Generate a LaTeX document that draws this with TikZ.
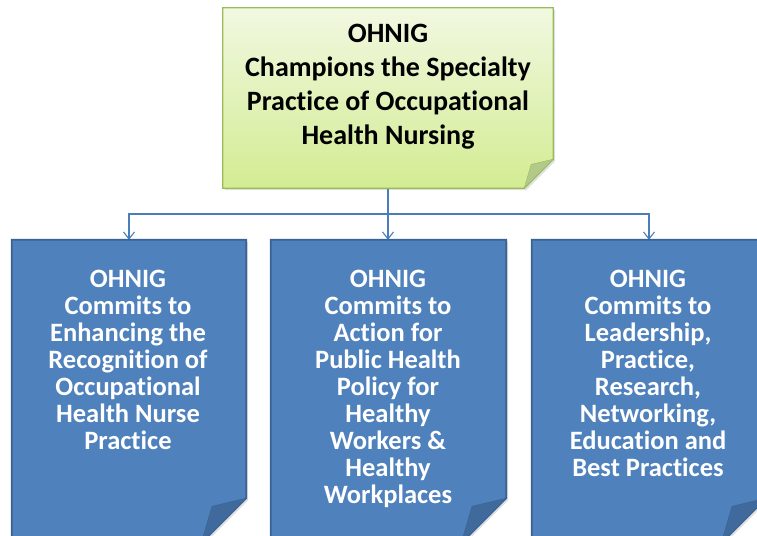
\documentclass[tikz,border=0pt]{standalone}
\usepackage{fontspec}
\setmainfont{Carlito}[Ligatures={NoCommon}]
\usetikzlibrary{arrows.meta,shadows}
\definecolor{bfill}{HTML}{4F81BD}
\definecolor{bdraw}{HTML}{3A6293}
\definecolor{bfold}{HTML}{40699C}
\definecolor{gtop}{HTML}{F1F8E1}
\definecolor{gbot}{HTML}{D3EC92}
\definecolor{gdraw}{HTML}{9BBB59}
\definecolor{gfold}{HTML}{B2C98A}
\definecolor{conn}{HTML}{4A7EBB}
\newcommand\foldshape[5]{%
  \path[#3] (#1.north west) -- (#1.north east) -- ([yshift=#2pt]#1.south east)
     -- ([xshift=-#2pt]#1.south east) -- (#1.south west) -- cycle;
  \path[fill=#5, draw=#4, line join=round] ([yshift=#2pt]#1.south east)
     -- ([xshift=-0.76*#2pt, yshift=0.82*#2pt]#1.south east)
     -- ([xshift=-#2pt]#1.south east) -- cycle;
}
\begin{document}
\begin{tikzpicture}[x=1pt,y=-1pt,
  frame/.style={draw=none, fill=none, inner sep=0pt, rectangle},
  greenpath/.style={top color=gtop, bottom color=gbot, draw=gdraw, line width=1.3pt,
     drop shadow={opacity=0.25, shadow xshift=2pt, shadow yshift=-2pt}},
  bluepath/.style={fill=bfill, draw=bdraw, line width=1.8pt,
     drop shadow={opacity=0.25, shadow xshift=2pt, shadow yshift=-2pt}},
  toptext/.style={inner sep=0pt, align=center, font=\fontsize{28}{34}\selectfont\bfseries, text=black},
  bluetext/.style={inner sep=0pt, align=center, font=\fontsize{26.5}{27}\selectfont\bfseries, text=white},
  conn/.style={draw=conn, line width=1.2pt},
  arr/.style={-{Straight Barb[length=7pt,width=11pt,line width=1.1pt]}}
]
\useasboundingbox (0,0) rectangle (757,535);
\clip (0,0) rectangle (757,535);
\fill[white] (0,0) rectangle (757,535);

\node[frame, minimum width=330pt, minimum height=180pt] (top) at (388,98) {};
\node[frame, minimum width=234pt, minimum height=303pt] (left) at (129,391.5) {};
\node[frame, minimum width=235pt, minimum height=303pt] (mid) at (388.5,391.5) {};
\node[frame, minimum width=234pt, minimum height=303pt] (right) at (649,391.5) {};
\coordinate (bus) at (388,214);

\draw[conn] (top.south) -- (bus);
\draw[conn,arr] (bus) -| (left.north);
\draw[conn,arr] (bus) -- (bus |- mid.north);
\draw[conn,arr] (bus) -| (right.north);

\foldshape{top}{29}{greenpath}{gdraw}{gfold}
\foldshape{left}{45}{bluepath}{bdraw}{bfold}
\foldshape{mid}{45}{bluepath}{bdraw}{bfold}
\foldshape{right}{45}{bluepath}{bdraw}{bfold}

\node[toptext, anchor=north] (toptxt) at (388,23.5) {OHNIG\\Champions the Specialty\\Practice of Occupational\\Health Nursing};
\node[bluetext, anchor=north] (lefttxt) at (128,270) {OHNIG\\Commits to\\Enhancing the\\Recognition of\\Occupational\\Health Nurse\\Practice};
\node[bluetext, anchor=north] (midtxt) at (388,270) {OHNIG\\Commits to\\Action for\\Public Health\\Policy for\\Healthy\\Workers \&\\Healthy\\Workplaces};
\node[bluetext, anchor=north] (righttxt) at (648,270) {OHNIG\\Commits to\\Leadership,\\Practice,\\Research,\\Networking,\\Education and\\Best Practices};
\end{tikzpicture}
\end{document}
